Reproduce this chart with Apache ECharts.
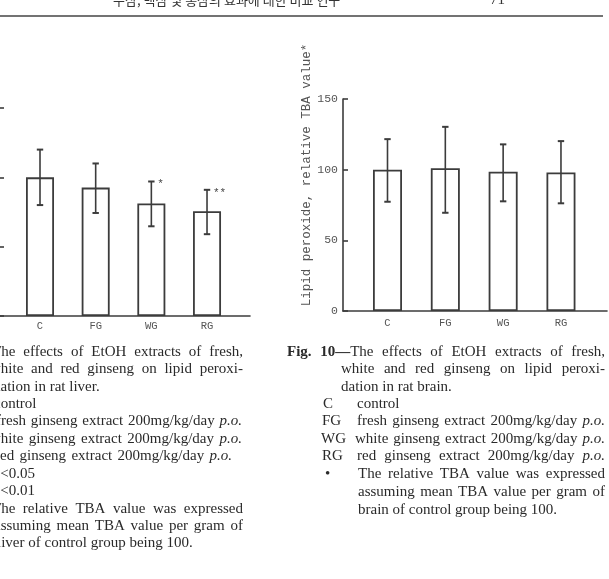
<!DOCTYPE html>
<html><head><meta charset="utf-8">
<script src="https://cdn.jsdelivr.net/npm/echarts@6/dist/echarts.min.js"></script>
<style>html,body{margin:0;padding:0;background:#fff}#c{width:609px;height:579px}</style>
</head><body><div id="c"></div>
<script>
// ---------------- data ----------------
const categories = ['C', 'FG', 'WG', 'RG'];
// Fig. 9 (rat liver) - left panel, cropped at the page edge
const liverMean  = [100, 92.6, 81.1, 75.5];
const liverUpper = [120, 110, 97, 91];
const liverLower = [80, 74.3, 64.7, 59];
const liverSig   = ['', '', '*', '**'];
// Fig. 10 (rat brain) - right panel
const brainMean  = [100, 101, 98.6, 98];
const brainUpper = [121.6, 130.3, 117.9, 120.2];
const brainLower = [77.3, 69.5, 77.6, 76.2];
const yTickValues = [0, 50, 100, 150];
const yAxisTitle = 'Lipid peroxide, relative TBA value*';

const headerTitle = '수삼, 백삼 및 홍삼의 효과에 대한 비교 연구';
const pageNumber = '71';

// caption lines: [text, xStart, xEnd (justify) or null, y]
const leftCaption = [
  ['The effects of EtOH extracts of fresh,', -8, 243, 352],
  ['white and red ginseng on lipid peroxi-', -10, 243, 369],
  ['dation in rat liver.', -7, null, 387],
  ['control', -6, null, 404],
  ['fresh ginseng extract 200mg/kg/day _p.o._', -4, 242, 421],
  ['white ginseng extract 200mg/kg/day _p.o._', -10, 242, 439],
  ['red ginseng extract 200mg/kg/day _p.o._', -5, 232, 456],
  ['P<0.05', -8, null, 474],
  ['P<0.01', -8, null, 491],
  ['The relative TBA value was expressed', -8, 243, 509],
  ['assuming mean TBA value per gram of', -6, 243, 526],
  ['liver of control group being 100.', -3, null, 543]
];
const rightCaption = [
  ['^Fig.^ ^10—^The effects of EtOH extracts of fresh,', 287, 605, 352],
  ['white and red ginseng on lipid peroxi-', 341, 605, 369],
  ['dation in rat brain.', 341, null, 387],
  ['C', 323, null, 404], ['control', 357, null, 404],
  ['FG', 322, null, 421], ['fresh ginseng extract 200mg/kg/day _p.o._', 357, 605, 421],
  ['WG', 321, null, 439], ['white ginseng extract 200mg/kg/day _p.o._', 355, 605, 439],
  ['RG', 322, null, 456], ['red ginseng extract 200mg/kg/day _p.o._', 357, 605, 456],
  ['•', 325, null, 474], ['The relative TBA value was expressed', 358, 605, 474],
  ['assuming mean TBA value per gram of', 358, 605, 492],
  ['brain of control group being 100.', 358, null, 510]
];

// ---------------- text layout helpers ----------------
const SERIF = '"Liberation Serif", "Times New Roman", serif';
const MONO = '"Liberation Mono", "DejaVu Sans Mono", monospace';
const CAP_SIZE = 15;
const INK = '#2a2a2a';
const ctx = document.createElement('canvas').getContext('2d');
function fontOf(p){ return (p.i ? 'italic ' : '') + (p.b ? 'bold ' : '') + CAP_SIZE + 'px ' + SERIF; }
function parseWord(w){
  const pieces = []; let b = false, i = false, buf = '';
  const flush = () => { if (buf) { pieces.push({t: buf, b, i}); buf = ''; } };
  for (const ch of w) {
    if (ch === '^') { flush(); b = !b; }
    else if (ch === '_') { flush(); i = !i; }
    else buf += ch;
  }
  flush();
  return pieces;
}
function pieceW(p){ ctx.font = fontOf(p); return ctx.measureText(p.t).width; }
function layoutLine(text, x0, x1, y){
  const words = text.split(' ').map(parseWord);
  const widths = words.map(ps => ps.reduce((s, p) => s + pieceW(p), 0));
  const total = widths.reduce((a, b) => a + b, 0);
  ctx.font = fontOf({}); const sp = ctx.measureText(' ').width;
  const gap = (x1 != null && words.length > 1) ? (x1 - x0 - total) / (words.length - 1) : sp;
  const els = []; let x = x0;
  words.forEach((ps, k) => {
    let px = x;
    ps.forEach(p => {
      els.push({type: 'text', x: px, y: y, silent: true, style: {
        text: p.t, fontFamily: SERIF, fontSize: CAP_SIZE,
        fontWeight: p.b ? 'bold' : 'normal', fontStyle: p.i ? 'italic' : 'normal',
        fill: INK, align: 'left', verticalAlign: 'middle'}});
      px += pieceW(p);
    });
    x += widths[k] + gap;
  });
  return els;
}

// ---------------- chart ----------------
const chart = echarts.init(document.getElementById('c'), null, {renderer: 'canvas'});
const AX = '#3c3c3c';

function barSeries(xi, yi, vals, w){
  return {type: 'bar', xAxisIndex: xi, yAxisIndex: yi, barWidth: w,
    data: vals.map((v, i) => [i, v]),
    itemStyle: {color: '#fff', borderColor: AX, borderWidth: 1.8},
    silent: true, z: 2};
}
function errSeries(xi, yi, upper, lower, sig){
  return {type: 'custom', xAxisIndex: xi, yAxisIndex: yi, silent: true, z: 3,
    data: upper.map((u, i) => [i, u, lower[i]]),
    renderItem(params, api){
      const x = api.value(0);
      const t = api.coord([x, api.value(1)]);
      const b = api.coord([x, api.value(2)]);
      const cap = 3.2;
      const ch = [
        {type: 'line', shape: {x1: t[0], y1: t[1], x2: b[0], y2: b[1]}, style: {stroke: AX, lineWidth: 1.6}},
        {type: 'line', shape: {x1: t[0]-cap, y1: t[1], x2: t[0]+cap, y2: t[1]}, style: {stroke: AX, lineWidth: 2}},
        {type: 'line', shape: {x1: b[0]-cap, y1: b[1], x2: b[0]+cap, y2: b[1]}, style: {stroke: AX, lineWidth: 2}}
      ];
      const s = sig ? sig[params.dataIndex] : '';
      if (s) ch.push({type: 'text', x: t[0] + 6, y: t[1] + 3, style: {
        text: s, fontFamily: MONO, fontSize: 11, fill: '#444', align: 'left', verticalAlign: 'middle'}});
      return {type: 'group', children: ch};
    }};
}
const catLabel = (margin) => ({customValues: [0, 1, 2, 3], formatter: v => categories[v] || '',
  fontFamily: MONO, fontSize: 10.5, color: '#555', margin: margin});

const graphics = [];
graphics.push({type: 'text', x: 113, y: 0, silent: true, style: {text: headerTitle,
  fontFamily: '"Noto Sans CJK KR", sans-serif', fontSize: 13, fill: '#333', align: 'left', verticalAlign: 'middle'}});
graphics.push({type: 'text', x: 505, y: 0, silent: true, style: {text: pageNumber,
  fontFamily: SERIF, fontSize: 15, fill: '#333', align: 'right', verticalAlign: 'middle'}});
graphics.push({type: 'rect', shape: {x: 0, y: 15.3, width: 603, height: 1.4}, style: {fill: '#444'}, silent: true});
leftCaption.concat(rightCaption).forEach(l => { graphics.push(...layoutLine(l[0], l[1], l[2], l[3])); });

chart.setOption({
  animation: false,
  backgroundColor: '#fff',
  grid: [
    {left: 0, right: 359, top: 108, bottom: 263},
    {left: 343, right: 2, top: 99, bottom: 268}
  ],
  xAxis: [
    {type: 'value', gridIndex: 0, min: -0.7186, max: 3.772, splitLine: {show: false},
     axisLine: {show: true, onZero: false, lineStyle: {color: AX, width: 1.6}},
     axisTick: {show: false}, axisLabel: catLabel(5)},
    {type: 'value', gridIndex: 1, min: -0.7695, max: 3.796, splitLine: {show: false},
     axisLine: {show: true, onZero: false, lineStyle: {color: AX, width: 1.6}},
     axisTick: {show: false}, axisLabel: catLabel(7)}
  ],
  yAxis: [
    {type: 'value', gridIndex: 0, min: 0, max: 150, interval: 50, splitLine: {show: false},
     axisLine: {show: false, onZero: false},
     axisTick: {show: true, inside: true, length: 4, lineStyle: {color: AX, width: 1.6}},
     axisLabel: {show: false}},
    {type: 'value', gridIndex: 1, min: 0, max: 150, interval: 50, splitLine: {show: false},
     axisLine: {show: true, onZero: false, lineStyle: {color: AX, width: 1.6}},
     axisTick: {show: true, inside: true, length: 5, lineStyle: {color: AX, width: 1.6}},
     axisLabel: {customValues: yTickValues, fontFamily: MONO, fontSize: 11.5, color: '#555', margin: 5},
     name: yAxisTitle, nameLocation: 'middle', nameGap: 19,
     nameTextStyle: {fontFamily: MONO, fontSize: 12.5, color: '#555', padding: [0, 0, 0, 60]}}
  ],
  series: [
    barSeries(0, 0, liverMean, 28),
    errSeries(0, 0, liverUpper, liverLower, liverSig),
    barSeries(1, 1, brainMean, 29),
    errSeries(1, 1, brainUpper, brainLower, null)
  ],
  graphic: graphics
});
</script>
</body></html>
